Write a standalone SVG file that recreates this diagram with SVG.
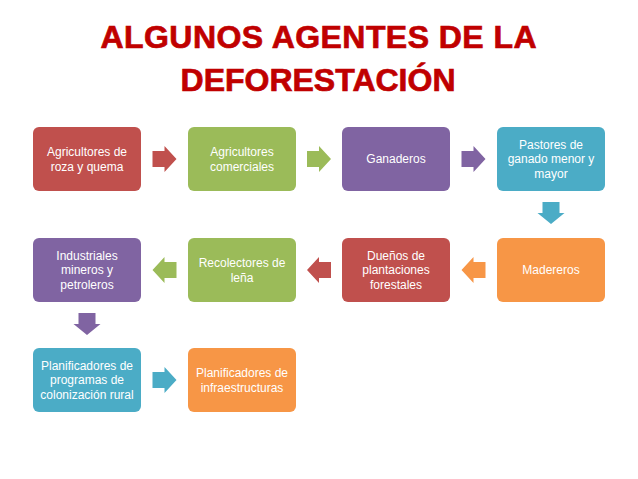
<svg xmlns="http://www.w3.org/2000/svg" width="638" height="479" viewBox="0 0 638 479">
<style>
.title{font-family:"Liberation Sans",Arial,sans-serif;font-weight:bold;font-size:32px;fill:#C00000;stroke:#C00000;stroke-width:0.7;text-anchor:middle}
.lbl{font-family:"Liberation Sans",Arial,sans-serif;font-size:12px;fill:#FFFFFF;text-anchor:middle}
.red{fill:#C0504D}.green{fill:#9BBB59}.purple{fill:#8064A2}.blue{fill:#4BACC6}.orange{fill:#F79646}
</style>
<rect width="638" height="479" fill="#FFFFFF"/>
<g id="title">
<text class="title" x="318.5" y="48" textLength="436" lengthAdjust="spacing">ALGUNOS AGENTES DE LA</text>
<text class="title" x="318" y="91">DEFORESTACIÓN</text>
</g>
<g id="n1"><rect class="red" x="33" y="127" width="108" height="64" rx="6"/><text class="lbl" x="87" y="156">Agricultores de</text><text class="lbl" x="87" y="170.5">roza y quema</text></g>
<g id="n2"><rect class="green" x="188" y="127" width="108" height="64" rx="6"/><text class="lbl" x="242" y="156">Agricultores</text><text class="lbl" x="242" y="170.5">comerciales</text></g>
<g id="n3"><rect class="purple" x="342" y="127" width="108" height="64" rx="6"/><text class="lbl" x="396" y="163.3">Ganaderos</text></g>
<g id="n4"><rect class="blue" x="497" y="127" width="108" height="64" rx="6"/><text class="lbl" x="551" y="148.8">Pastores de</text><text class="lbl" x="551" y="163.3">ganado menor y</text><text class="lbl" x="551" y="177.8">mayor</text></g>
<g id="n5"><rect class="orange" x="497" y="238" width="108" height="64" rx="6"/><text class="lbl" x="551" y="274.3">Madereros</text></g>
<g id="n6"><rect class="red" x="342" y="238" width="108" height="64" rx="6"/><text class="lbl" x="396" y="259.8">Dueños de</text><text class="lbl" x="396" y="274.3">plantaciones</text><text class="lbl" x="396" y="288.8">forestales</text></g>
<g id="n7"><rect class="green" x="188" y="238" width="108" height="64" rx="6"/><text class="lbl" x="242" y="267">Recolectores de</text><text class="lbl" x="242" y="281.5">leña</text></g>
<g id="n8"><rect class="purple" x="33" y="238" width="108" height="64" rx="6"/><text class="lbl" x="87" y="259.8">Industriales</text><text class="lbl" x="87" y="274.3">mineros y</text><text class="lbl" x="87" y="288.8">petroleros</text></g>
<g id="n9"><rect class="blue" x="33" y="348" width="108" height="64" rx="6"/><text class="lbl" x="87" y="369.8">Planificadores de</text><text class="lbl" x="87" y="384.3">programas de</text><text class="lbl" x="87" y="398.8">colonización rural</text></g>
<g id="n10"><rect class="orange" x="188" y="348" width="108" height="64" rx="6"/><text class="lbl" x="242" y="377">Planificadores de</text><text class="lbl" x="242" y="391.5">infraestructuras</text></g>
<g id="connectors">
<path class="red" d="M152.5,151 H164.5 V146 L176.5,159 L164.5,172 V167 H152.5 Z"/>
<path class="green" d="M307,151 H319 V146 L331,159 L319,172 V167 H307 Z"/>
<path class="purple" d="M461.5,151 H473.5 V146 L485.5,159 L473.5,172 V167 H461.5 Z"/>
<path class="blue" d="M542.5,202 H559.5 V213 H564.5 L551,224 L537.5,213 H542.5 Z"/>
<path class="orange" d="M485.5,262 H473.5 V257 L461.5,270 L473.5,283 V278 H485.5 Z"/>
<path class="red" d="M331,262 H319 V257 L307,270 L319,283 V278 H331 Z"/>
<path class="green" d="M176.5,262 H164.5 V257 L152.5,270 L164.5,283 V278 H176.5 Z"/>
<path class="purple" d="M78.5,313 H95.5 V324 H100.5 L87,335 L73.5,324 H78.5 Z"/>
<path class="blue" d="M152.5,372 H164.5 V367 L176.5,380 L164.5,393 V388 H152.5 Z"/>
</g>
</svg>
